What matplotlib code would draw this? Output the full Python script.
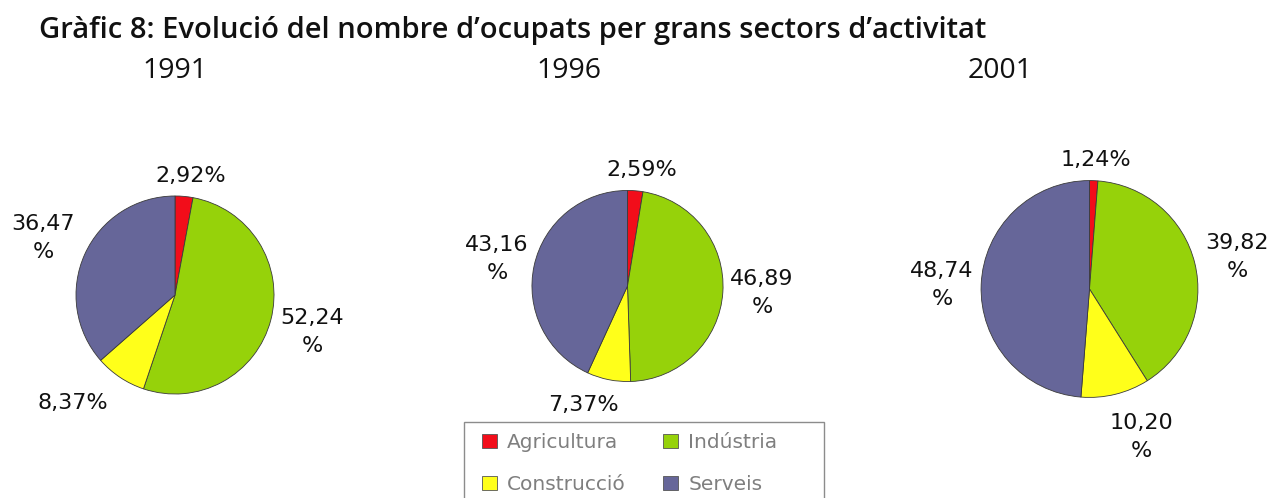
import matplotlib.pyplot as plt
from matplotlib.patches import Patch, Rectangle

# dades
sectors = ["Agricultura", "Indústria", "Construcció", "Serveis"]
anys = ["1991", "1996", "2001"]
pct_1991 = [2.92, 52.24, 8.37, 36.47]
pct_1996 = [2.59, 46.89, 7.37, 43.16]
pct_2001 = [1.24, 39.82, 10.20, 48.74]
etiquetes_1991 = ["2,92%", "52,24\n%", "8,37%", "36,47\n%"]
etiquetes_1996 = ["2,59%", "46,89\n%", "7,37%", "43,16\n%"]
etiquetes_2001 = ["1,24%", "39,82\n%", "10,20\n%", "48,74\n%"]

colors = ["#F20D1A", "#96D20A", "#FFFF1A", "#666699"]

W, H = 1271, 498
fig = plt.figure(figsize=(W / 100, H / 100), dpi=100)
fig.patch.set_facecolor("white")


def fx(x):
    return x / W


def fy(y):
    return 1 - y / H


# centre i radi de cada pastís (px)
pies = [(175, 295, 100), (627.5, 286, 96.5), (1089.5, 289, 109.5)]
# posicions de les etiquetes (px)
pos_labels = [
    [(191, 176), (312, 332), (73, 403), (43, 238)],
    [(642, 170), (762, 293), (583, 405), (497, 259)],
    [(1096, 160), (1237, 257), (1141, 437), (942, 285)],
]
pos_anys = [(175, 78), (569, 78), (1000, 78)]

dades = [pct_1991, pct_1996, pct_2001]
etiquetes = [etiquetes_1991, etiquetes_1996, etiquetes_2001]

for (cx, cy, r), vals, labs, pos in zip(pies, dades, etiquetes, pos_labels):
    ax = fig.add_axes([fx(cx - r), fy(cy + r), (2 * r) / W, (2 * r) / H])
    ax.pie(vals, colors=colors, startangle=90, counterclock=False,
           wedgeprops=dict(edgecolor="#3a3a3a", linewidth=0.6))
    ax.set_xlim(-1.01, 1.01)
    ax.set_ylim(-1.01, 1.01)
    for t, (x, y) in zip(labs, pos):
        fig.text(fx(x), fy(y), t, ha="center", va="center", fontsize=16,
                 family="DejaVu Sans", color="#111111", linespacing=1.45)

fig.text(fx(39), fy(38), "Gràfic 8: Evolució del nombre d\u2019ocupats per grans sectors d\u2019activitat",
         ha="left", va="baseline", fontsize=21, fontweight="semibold",
         family="Open Sans", color="#111111")
for a, (x, y) in zip(anys, pos_anys):
    fig.text(fx(x), fy(y), a, ha="center", va="baseline", fontsize=20.5,
             family="Open Sans", color="#111111")

# marc de la llegenda (tallat per baix, com a l'original)
fig.patches.append(Rectangle((fx(464), fy(520)), fx(824) - fx(464), fy(422) - fy(520),
                             transform=fig.transFigure, facecolor="white",
                             edgecolor="#8c8c8c", linewidth=1.0, zorder=1))

# llegenda (ordre per columnes)
ordre = [0, 2, 1, 3]
handles = [Patch(facecolor=colors[i], edgecolor="#555555", linewidth=0.6) for i in ordre]
leg = fig.legend(handles, [sectors[i] for i in ordre], ncol=2,
                 loc="upper left", bbox_to_anchor=(fx(482), fy(433)),
                 prop=dict(family="DejaVu Sans", size=14.5), labelcolor="#7f7f7f",
                 handlelength=0.75, handleheight=0.75, handletextpad=0.5,
                 columnspacing=1.85, labelspacing=1.14, borderpad=0,
                 borderaxespad=0, frameon=False)
leg.set_zorder(2)

fig.savefig("out.png", dpi=100)
